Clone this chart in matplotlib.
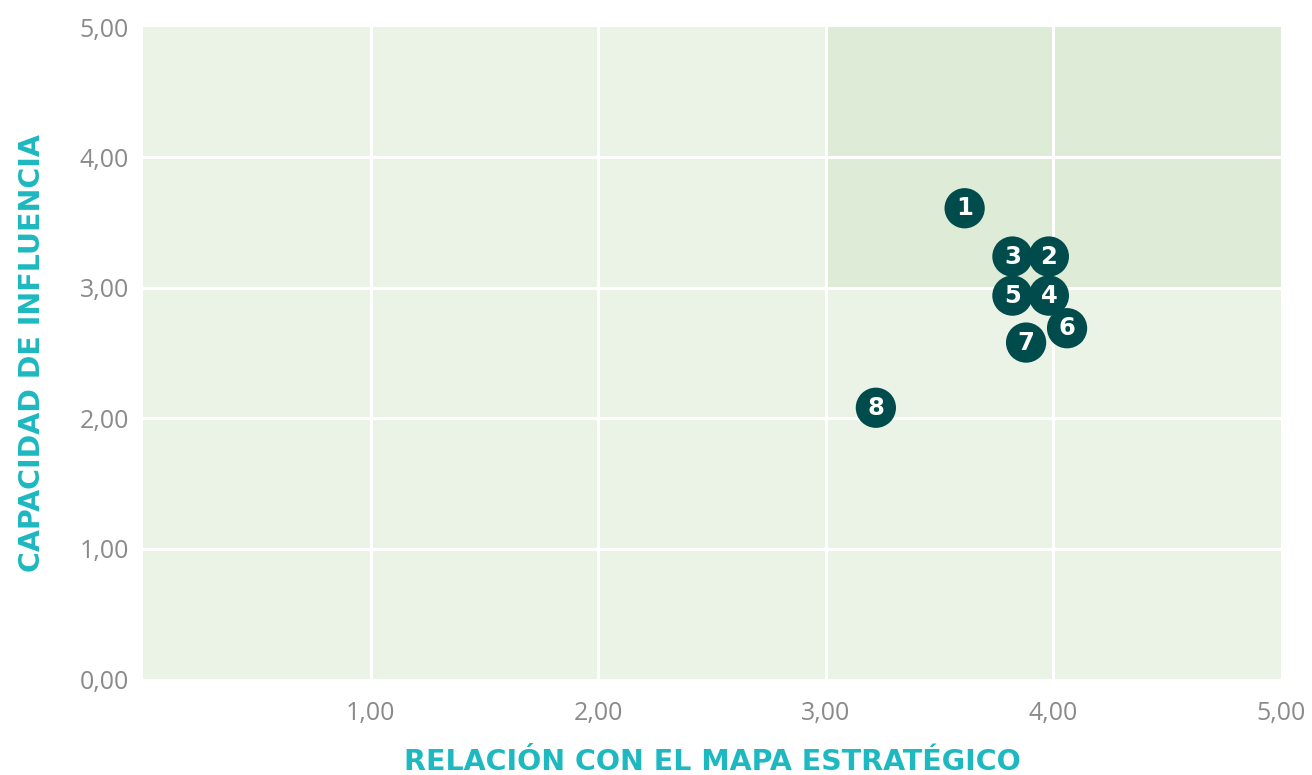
import matplotlib.pyplot as plt
from matplotlib.ticker import FuncFormatter
from matplotlib.patches import Rectangle

# data
labels = ['1', '2', '3', '4', '5', '6', '7', '8']
relacion = [3.61, 3.98, 3.82, 3.98, 3.82, 4.06, 3.88, 3.22]
influencia = [3.61, 3.24, 3.24, 2.94, 2.94, 2.69, 2.58, 2.08]
ticks = [0, 1, 2, 3, 4, 5]

bg = '#ebf3e7'
hl = '#deebd6'
dot = '#004b4b'
teal = '#1db8c0'
grey = '#8a8a8a'

fig = plt.figure(figsize=(13.12, 7.75), dpi=100)
ax = fig.add_axes([143/1312, 96/775, 1138/1312, 652/775])
ax.set_facecolor(bg)
ax.set_xlim(0, 5)
ax.set_ylim(0, 5)

# highlighted quadrant
ax.add_patch(Rectangle((3, 3), 2, 2, facecolor=hl, edgecolor='none', zorder=0))

for t in ticks[1:-1]:
    ax.axvline(t, color='white', lw=2.2, zorder=1)
    ax.axhline(t, color='white', lw=2.2, zorder=1)

ax.scatter(relacion, influencia, s=840, color=dot, edgecolor='none', zorder=3)
for lab, x, y in zip(labels, relacion, influencia):
    ax.text(x, y, lab, ha='center', va='center', color='white',
            fontsize=17.5, fontweight='bold', family='DejaVu Sans', zorder=4)

fmt = FuncFormatter(lambda v, p: f'{v:.2f}'.replace('.', ','))
ax.xaxis.set_major_formatter(fmt)
ax.yaxis.set_major_formatter(fmt)
ax.set_xticks(ticks[1:])
ax.set_yticks(ticks)
ax.tick_params(length=0, labelsize=18, labelcolor=grey, pad=10)
for lbl in ax.get_xticklabels() + ax.get_yticklabels():
    lbl.set_family('Open Sans')
ax.tick_params(axis='x', pad=16)
for s in ax.spines.values():
    s.set_visible(False)

ax.set_xlabel('RELACIÓN CON EL MAPA ESTRATÉGICO', color=teal, fontsize=20.5,
              fontweight='bold', family='DejaVu Sans', labelpad=16)
ax.set_ylabel('CAPACIDAD DE INFLUENCIA', color=teal, fontsize=20.5,
              fontweight='bold', family='DejaVu Sans', labelpad=24)

fig.savefig('out.png', dpi=100)
